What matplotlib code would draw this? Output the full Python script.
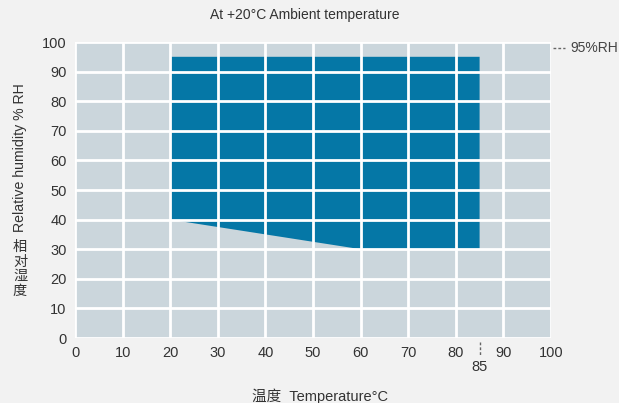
import numpy as np
import matplotlib
matplotlib.use("Agg")
import matplotlib.pyplot as plt

plt.rcParams['font.family'] = ['Liberation Sans', 'Noto Sans CJK SC', 'DejaVu Sans']

# operating envelope (temperature °C, relative humidity %)
env_temp = [20, 85, 85, 60, 20]
env_rh = [95, 95, 30, 30, 40]
x_ticks = [0, 10, 20, 30, 40, 50, 60, 70, 80, 90, 100]
y_ticks = [0, 10, 20, 30, 40, 50, 60, 70, 80, 90, 100]
t_max = 85
rh_max = 95

fig = plt.figure(figsize=(6.19, 4.03), dpi=100, facecolor='#f2f2f2')
ax = fig.add_axes([75/619, 65/403, 476/619, 296/403])
ax.set_facecolor('#cbd6dc')
ax.set_xlim(0, 100); ax.set_ylim(0, 100)
ax.fill(env_temp, env_rh, color='#0577a6', zorder=1, lw=0)
ax.set_xticks(x_ticks); ax.set_yticks(y_ticks)
ax.grid(color='white', lw=2, zorder=2)
ax.set_axisbelow(False)
for s in ax.spines.values():
    s.set_visible(False)
ax.tick_params(length=0, labelsize=10.5, colors='#333333', pad=6)

# 85 marker below axis
ax.plot([t_max, t_max], [-1.5, -6], ls=(0, (2, 1.5)), color='#666666', lw=1, clip_on=False)
ax.text(t_max, -7.5, '85', ha='center', va='top', fontsize=10.5, color='#333333')
# 95%RH marker right of axis
ax.plot([100.5, 103], [98, 98], ls=(0, (2, 1.5)), color='#666666', lw=1, clip_on=False)
ax.text(104, 98, '95%RH', ha='left', va='center', fontsize=10, color='#444444')

fig.text(305/619, 1 - 15/403, 'At +20°C Ambient temperature', ha='center', va='center',
         fontsize=10, color='#333333')
fig.text(320/619, 1 - 396/403, '温度  Temperature°C', ha='center', va='center',
         fontsize=10.5, color='#333333')
fig.text(20/619, 1 - 158/403, 'Relative humidity % RH', ha='center', va='center',
         rotation=90, fontsize=10.2, color='#333333')
for i, ch in enumerate('相对湿度'):
    fig.text(20/619, 1 - (247 + 14.5*i)/403, ch, ha='center', va='center',
             fontsize=10.2, color='#333333')

fig.savefig('out.png', dpi=100, facecolor=fig.get_facecolor())
